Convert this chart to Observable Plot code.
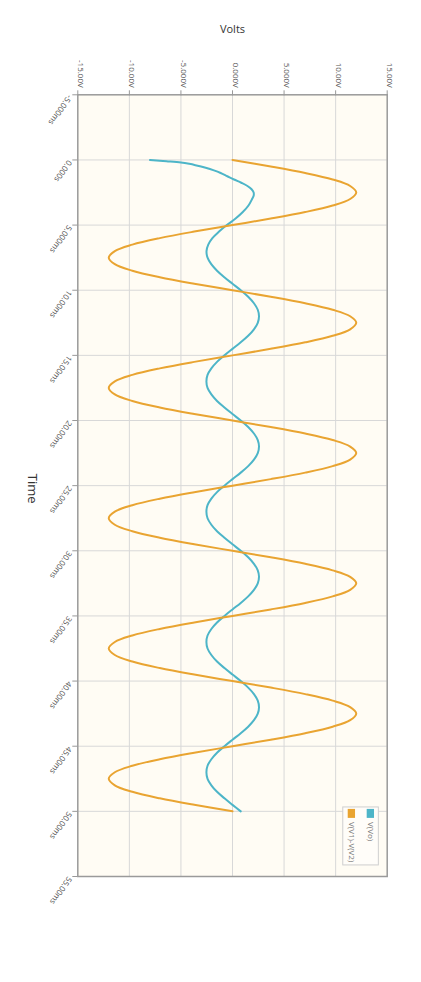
<!DOCTYPE html>
<html><head><meta charset="utf-8">
<script src="https://cdn.jsdelivr.net/npm/d3@7"></script>
<script src="https://cdn.jsdelivr.net/npm/@observablehq/plot@0.6"></script>
<style>
body{margin:0;background:#fff;}
#chart svg{display:block;}
</style>
</head><body><div id="chart"></div>
<script>
// ---- data ----
const seriesNames = ["V(V1)-V(V2)", "V(Vo)"];
const seriesColors = ["#e9a431", "#4db5c8"];

const voltTicks = [-15, -10, -5, 0, 5, 10, 15];
const voltLabels = ["-15.00V", "-10.00V", "-5.000V", "0.000V", "5.000V", "10.00V", "15.00V"];
const timeTicks = [-5, 0, 5, 10, 15, 20, 25, 30, 35, 40, 45, 50, 55];
const timeLabels = ["-5.000ms", "0.000s", "5.000ms", "10.00ms", "15.00ms", "20.00ms", "25.00ms",
  "30.00ms", "35.00ms", "40.00ms", "45.00ms", "50.00ms", "55.00ms"];

// V(V1)-V(V2), sampled every 0.5 ms from 0 ms
const diffStartMs = 0, diffStepMs = 0.5;
const diffVolts = [
  0, 3.71, 7.05, 9.71, 11.41, 12, 11.41, 9.71, 7.05, 3.71, 0, -3.71, -7.05, -9.71, -11.41, -12, -11.41, -9.71, -7.05, -3.71,
  0, 3.71, 7.05, 9.71, 11.41, 12, 11.41, 9.71, 7.05, 3.71, 0, -3.71, -7.05, -9.71, -11.41, -12, -11.41, -9.71, -7.05, -3.71,
  0, 3.71, 7.05, 9.71, 11.41, 12, 11.41, 9.71, 7.05, 3.71, 0, -3.71, -7.05, -9.71, -11.41, -12, -11.41, -9.71, -7.05, -3.71,
  0, 3.71, 7.05, 9.71, 11.41, 12, 11.41, 9.71, 7.05, 3.71, 0, -3.71, -7.05, -9.71, -11.41, -12, -11.41, -9.71, -7.05, -3.71,
  0, 3.71, 7.05, 9.71, 11.41, 12, 11.41, 9.71, 7.05, 3.71, 0, -3.71, -7.05, -9.71, -11.41, -12, -11.41, -9.71, -7.05, -3.71,
  0
];

// V(Vo): start-up part (ms, V)
const voEarlyMs = [0, 0.1, 0.2, 0.3, 0.4, 0.6, 0.8, 1.0, 1.25, 1.5, 1.75, 2.0, 2.25, 2.5, 2.75, 3.0, 3.5, 4.0, 4.5,
  5.0, 5.5, 6.0, 6.5, 7.0, 7.5, 8.0, 8.5, 9.0];
const voEarlyVolts = [-8.0, -6.4, -5.0, -4.2, -3.6, -2.6, -1.8, -1.15, -0.5, 0.15, 0.85, 1.45, 1.85, 2.05, 2.05, 1.9, 1.55, 1.0, 0.3,
  -0.55, -1.3, -1.95, -2.35, -2.52, -2.42, -2.06, -1.5, -0.79];
// V(Vo): later part, sampled every 0.5 ms from 9.5 ms
const voLateStartMs = 9.5, voLateStepMs = 0.5;
const voLateVolts = [
  0, 0.8, 1.52, 2.08, 2.45, 2.57, 2.45, 2.08, 1.52, 0.8, 0, -0.78, -1.5, -2.05, -2.42, -2.53, -2.42, -2.05, -1.5, -0.78,
  0, 0.8, 1.52, 2.08, 2.45, 2.57, 2.45, 2.08, 1.52, 0.8, 0, -0.78, -1.5, -2.05, -2.42, -2.53, -2.42, -2.05, -1.5, -0.78,
  0, 0.8, 1.52, 2.08, 2.45, 2.57, 2.45, 2.08, 1.52, 0.8, 0, -0.78, -1.5, -2.05, -2.42, -2.53, -2.42, -2.05, -1.5, -0.78,
  0, 0.8, 1.52, 2.08, 2.45, 2.57, 2.45, 2.08, 1.52, 0.8, 0, -0.78, -1.5, -2.05, -2.42, -2.53, -2.42, -2.05, -1.5, -0.78,
  0, 0.8
];

// ---- tables built from the arrays ----
const diffRows = diffVolts.map((v, i) => ({series: seriesNames[0], t: diffStartMs + i * diffStepMs, v}));
const voRows = voEarlyMs.map((t, i) => ({series: seriesNames[1], t, v: voEarlyVolts[i]}))
  .concat(voLateVolts.map((v, i) => ({series: seriesNames[1], t: voLateStartMs + i * voLateStepMs, v})));

// legend placement (in data units: volts across, ms down)
const legendBox = {x1: 10.74, x2: 14.19, y1: 49.7, y2: 54.15};
const legendSwatches = [
  {name: seriesNames[0], x1: 11.22, x2: 11.93, xc: 11.55},
  {name: seriesNames[1], x1: 13.06, x2: 13.77, xc: 13.42}
];

const font = "'Open Sans', 'DejaVu Sans', sans-serif";
const W = 421, H = 982;

const chart = Plot.plot({
  width: W, height: H,
  marginLeft: 77.3, marginRight: W - 386.7, marginTop: 94.3, marginBottom: H - 876,
  style: {fontFamily: font, background: "#fff", overflow: "visible"},
  x: {domain: [-15, 15]},
  y: {domain: [-5, 55], reverse: true},
  color: {domain: seriesNames, range: seriesColors},
  marks: [
    Plot.frame({fill: "#fffcf4", stroke: null}),
    Plot.gridX(voltTicks.slice(1, -1), {stroke: "#d8d8d8", strokeOpacity: 1, strokeWidth: 1}),
    Plot.gridY(timeTicks.slice(1, -1), {stroke: "#d8d8d8", strokeOpacity: 1, strokeWidth: 1}),
    Plot.axisX({anchor: "top", ticks: voltTicks, tickSize: 5, tickFormat: () => "", label: null, stroke: "#999"}),
    Plot.axisY({anchor: "left", ticks: timeTicks, tickSize: 5, tickFormat: () => "", label: null, stroke: "#999"}),
    Plot.text(voltTicks, {x: d => d, frameAnchor: "top", text: (d, i) => voltLabels[i], rotate: 90,
      textAnchor: "end", lineAnchor: "bottom", dy: -7, fontSize: 8, fill: "#555"}),
    Plot.text(timeTicks, {y: d => d, frameAnchor: "left", text: (d, i) => timeLabels[i], rotate: 125,
      textAnchor: "start", lineAnchor: "middle", dx: -8, dy: 1, fontSize: 8, fill: "#555"}),
    Plot.text(["Volts"], {frameAnchor: "top", dy: -65, fontSize: 11, fill: "#333", textAnchor: "middle", lineAnchor: "middle"}),
    Plot.text(["Time"], {frameAnchor: "left", dx: -45.6, dy: 3, rotate: 90, fontSize: 13, fill: "#333",
      textAnchor: "middle", lineAnchor: "middle"}),
    Plot.line(voRows, {x: "v", y: "t", stroke: "series", curve: "catmull-rom", strokeWidth: 2}),
    Plot.line(diffRows, {x: "v", y: "t", stroke: "series", curve: "catmull-rom", strokeWidth: 2}),
    Plot.frame({stroke: "#9a9a9a", strokeWidth: 1.5}),
    Plot.rect([legendBox], {x1: "x1", x2: "x2", y1: "y1", y2: "y2", fill: "#fffdf9", stroke: "#cfcfcf", strokeWidth: 1}),
    Plot.rect(legendSwatches, {x1: "x1", x2: "x2", y1: 49.85, y2: 50.54, fill: "name"}),
    Plot.text(legendSwatches, {x: "xc", y: 50.82, text: "name", rotate: 90, textAnchor: "start",
      lineAnchor: "middle", fontSize: 8, fill: "#777"})
  ]
});

const frames = chart.querySelectorAll('g[aria-label="frame"]');
if (frames.length) frames[frames.length - 1].style.filter = "drop-shadow(0px 0px 1.2px rgba(0,0,0,0.35))";
document.getElementById("chart").appendChild(chart);
</script>
</body></html>
